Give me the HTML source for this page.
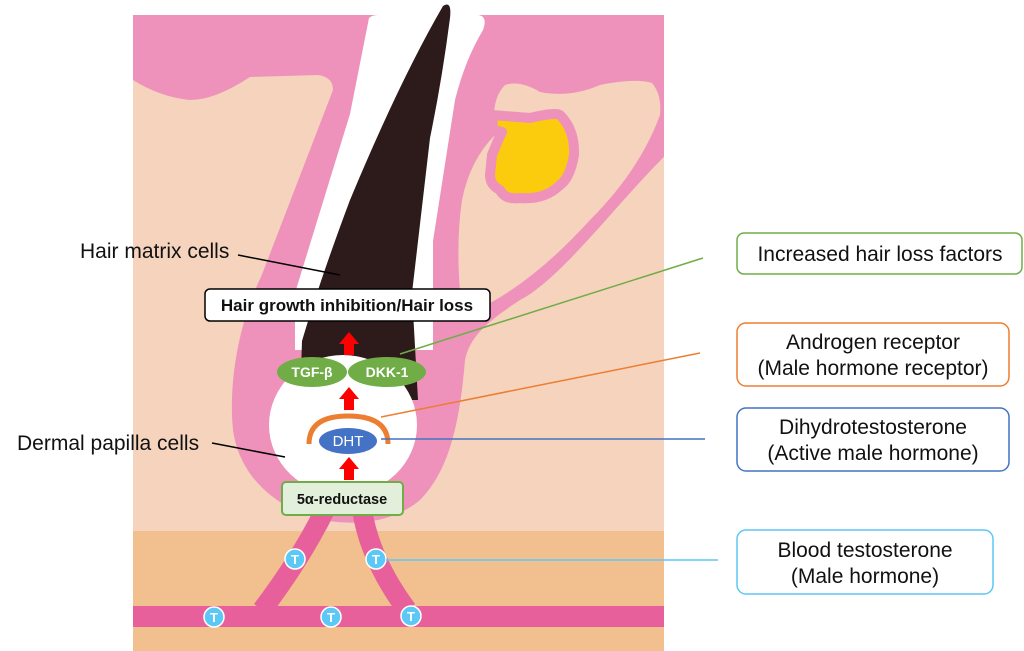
<!DOCTYPE html>
<html><head><meta charset="utf-8"><style>
html,body{margin:0;padding:0;background:#fff;}
svg{display:block;}
text{font-family:"Liberation Sans",Arial,sans-serif;}
</style></head><body>
<svg width="1024" height="651" viewBox="0 0 1024 651" xmlns="http://www.w3.org/2000/svg">
<rect x="133" y="15" width="531" height="516" fill="#f5d3bd"/>
<rect x="133" y="531" width="531" height="120" fill="#f2c08e"/>
<path d="M133,15 H664 V157 C620,200 560,280 520,300 C490,320 470,335 465,360 C460,420 450,470 420,500 C390,525 350,525 323,520 C280,510 240,480 233,430 C228,380 240,320 261,277 L333,90 Q333,77 318,75 L250,77 Q215,100 190,100 Q160,97 133,80 Z" fill="#ee92bc"/>
<path d="M505,85 Q520,80 540,92 Q570,98 600,85 Q635,78 652,83 Q662,95 660,115 Q640,170 590,220 Q540,275 492,302 Q470,308 460,292 Q456,240 462,200 Q470,160 495,135 Q490,100 505,85 Z" fill="#f5d3bd"/>
<path d="M664,157 V360 H467 Q470,345 500,330 Q560,300 600,240 Q630,190 664,157 Z" fill="#f5d3bd"/>
<path d="M492,115 L530,118 Q555,112 560,115 Q575,130 574,155 Q570,178 560,185 Q545,200 520,198 Q505,200 500,190 Q490,185 490,175 L492,155 Q498,140 502,132 L493,130 Z" fill="#fbcc0d" stroke="#ee92bc" stroke-width="10" stroke-linejoin="round"/>
<path d="M369,18 Q372,15 378,15 L478,15 Q488,16 483,30 Q465,60 455,100 L433,241 L433,350 L295,350 L295,293 L350,114 Z" fill="#fff"/>
<path d="M443,6 Q452,0 450,18 Q442,80 430,138 L412,293 L418,400 L300,400 L302,341 Q320,280 350,200 Q400,80 443,6 Z" fill="#2d1b1b"/>
<ellipse cx="343" cy="425" rx="74" ry="70" fill="#fff"/>
<rect x="133" y="606" width="531" height="21" fill="#e8609b"/>
<path d="M262,610 Q300,560 325,510" stroke="#e8609b" stroke-width="20" fill="none"/>
<path d="M407,610 Q370,560 362,510" stroke="#e8609b" stroke-width="20" fill="none"/>
<g fill="#5bc8f5" stroke="#fff" stroke-width="1.5">
<circle cx="295" cy="559" r="10"/><circle cx="376" cy="559" r="10"/>
<circle cx="214" cy="617" r="10"/><circle cx="331" cy="617" r="10"/><circle cx="411" cy="616" r="10"/>
</g>
<g fill="#fff" font-size="13" font-weight="bold" text-anchor="middle">
<text x="295" y="564">T</text><text x="376" y="564">T</text>
<text x="214" y="622">T</text><text x="331" y="622">T</text><text x="411" y="621">T</text>
</g>
<rect x="282" y="482" width="121" height="33" rx="4" fill="#e2efda" stroke="#70ad47" stroke-width="2"/>
<text x="342" y="504" font-size="14.5" font-weight="bold" text-anchor="middle" fill="#111">5α-reductase</text>
<g fill="#ff0000">
<path d="M344,355 V344 H339 L349,332 L359,344 H354 V355 Z"/>
<path d="M344,410 V399 H339 L349,387 L359,399 H354 V410 Z"/>
<path d="M344,480 V469 H339 L349,457 L359,469 H354 V480 Z"/>
</g>
<ellipse cx="312" cy="372" rx="35" ry="15" fill="#70ad47"/>
<ellipse cx="387" cy="372" rx="39" ry="15" fill="#70ad47"/>
<text x="312" y="377" font-size="14" font-weight="bold" fill="#fff" text-anchor="middle">TGF-β</text>
<text x="387" y="377" font-size="14" font-weight="bold" fill="#fff" text-anchor="middle">DKK-1</text>
<path d="M309,444 Q309,416 348,416 Q388,416 388,444" fill="none" stroke="#ed7d31" stroke-width="5"/>
<ellipse cx="348" cy="441" rx="29" ry="13" fill="#4472c4"/>
<text x="348" y="446" font-size="15" fill="#fff" text-anchor="middle">DHT</text>
<rect x="205" y="289" width="285" height="32" rx="5" fill="#fff" stroke="#000" stroke-width="1.5"/>
<text x="347" y="311" font-size="17" font-weight="bold" text-anchor="middle" fill="#111">Hair growth inhibition/Hair loss</text>
<text x="80" y="258" font-size="21" fill="#111">Hair matrix cells</text>
<line x1="238" y1="255" x2="340" y2="275" stroke="#000" stroke-width="1.5"/>
<text x="17" y="450" font-size="21" fill="#111">Dermal papilla cells</text>
<line x1="212" y1="443" x2="285" y2="457" stroke="#000" stroke-width="1.5"/>
<line x1="400" y1="354" x2="703" y2="258" stroke="#70ad47" stroke-width="1.5"/>
<line x1="381" y1="417" x2="700" y2="353" stroke="#ed7d31" stroke-width="1.5"/>
<line x1="381" y1="439" x2="705" y2="439" stroke="#4472c4" stroke-width="1.5"/>
<line x1="386" y1="560" x2="718" y2="560" stroke="#5bc8f5" stroke-width="1.5"/>
<rect x="737" y="233" width="285" height="41" rx="7" fill="#fff" stroke="#70ad47" stroke-width="1.5"/>
<text x="880" y="261" font-size="21" text-anchor="middle" fill="#111">Increased hair loss factors</text>
<rect x="737" y="323" width="272" height="63" rx="9" fill="#fff" stroke="#ed7d31" stroke-width="1.5"/>
<text x="873" y="349" font-size="21" text-anchor="middle" fill="#111">Androgen receptor</text>
<text x="873" y="375" font-size="21" text-anchor="middle" fill="#111">(Male hormone receptor)</text>
<rect x="737" y="408" width="272" height="63" rx="9" fill="#fff" stroke="#4472c4" stroke-width="1.5"/>
<text x="873" y="434" font-size="21" text-anchor="middle" fill="#111">Dihydrotestosterone</text>
<text x="873" y="460" font-size="21" text-anchor="middle" fill="#111">(Active male hormone)</text>
<rect x="737" y="530" width="256" height="64" rx="9" fill="#fff" stroke="#5bc8f5" stroke-width="1.5"/>
<text x="865" y="557" font-size="21" text-anchor="middle" fill="#111">Blood testosterone</text>
<text x="865" y="583" font-size="21" text-anchor="middle" fill="#111">(Male hormone)</text>
</svg>
</body></html>
